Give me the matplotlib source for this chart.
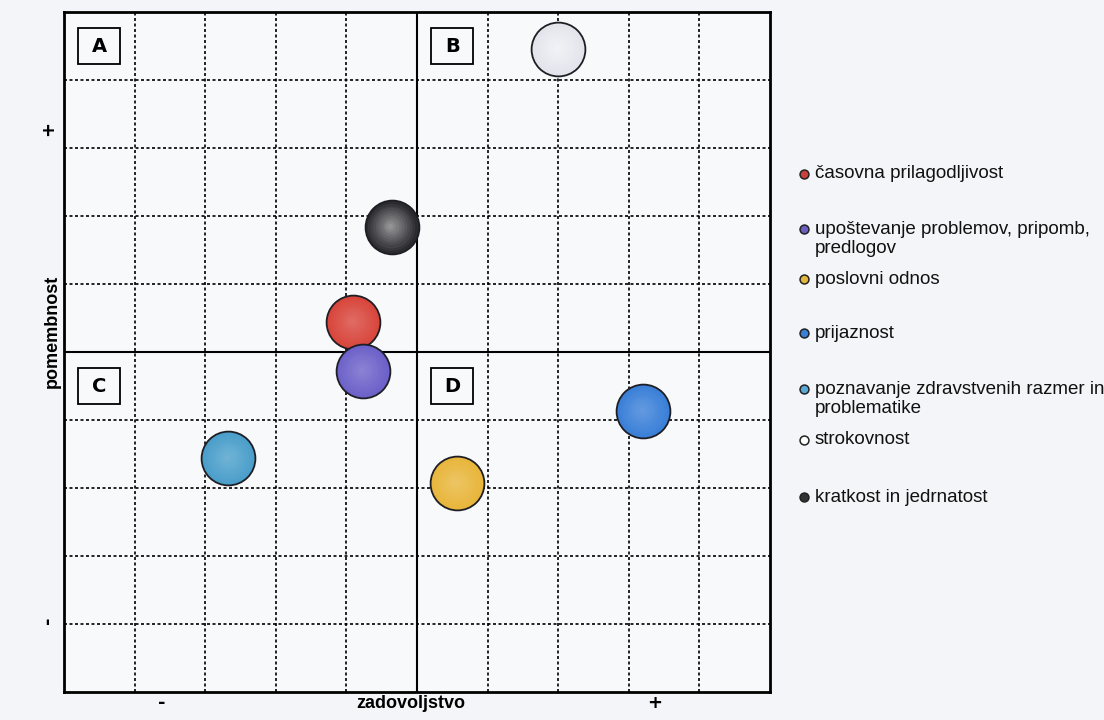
import matplotlib

matplotlib.use("Agg")
import matplotlib.pyplot as plt
from matplotlib.colors import to_rgb
from matplotlib.patches import Rectangle

W, H, DPI = 1104, 720, 100
FONT = ["Liberation Sans", "DejaVu Sans"]

# data (grid units, 0 = quadrant divider)
LABELS = [
    "časovna prilagodljivost",
    "upoštevanje problemov, pripomb,\npredlogov",
    "poslovni odnos",
    "prijaznost",
    "poznavanje zdravstvenih razmer in\nproblematike",
    "strokovnost",
    "kratkost in jedrnatost",
]
SATISFACTION = [-0.90, -0.77, 0.56, 3.20, -2.67, 2.00, -0.36]
IMPORTANCE = [0.44, -0.28, -1.93, -0.87, -1.56, 4.46, 1.84]
COLORS = ["#d8463c", "#6d62c9", "#e8b63c", "#3b80d8", "#4b9fcb", "#e4e5ec", "#2a2a2f"]
LEGEND_COLORS = ["#c9413a", "#6a5fc0", "#e2b73c", "#3b7fd6", "#5aa8d4", "#ffffff", "#333336"]
QUADRANTS = ["A", "B", "C", "D"]
X_TICK_LABELS = ["-", "+"]
Y_TICK_LABELS = ["-", "+"]

# layout
QUAD_POS = [(-4.5, 4.5), (0.5, 4.5), (-4.5, -0.5), (0.5, -0.5)]
X_TICK_POS = [-3.61, 3.37]
Y_TICK_POS = [-3.94, 3.28]
LEGEND_Y = [174, 229, 279, 333, 389, 440, 497]


def mix(color, t):
    r, g, b = to_rgb(color)
    return (r + (1 - r) * t, g + (1 - g) * t, b + (1 - b) * t)


plt.rcParams["font.family"] = FONT
fig = plt.figure(figsize=(W / DPI, H / DPI), dpi=DPI, facecolor="#f4f5f8")
ax = fig.add_axes([64 / W, 28 / H, 706 / W, 680 / H], facecolor="#f8f9fb")
ax.set_xlim(-5, 5)
ax.set_ylim(-5, 5)

grid_ticks = [i for i in range(-4, 5) if i != 0]
for g in grid_ticks:
    ax.axvline(g, color="black", lw=1.2, ls=(0, (1.8, 1.5)), zorder=1)
    ax.axhline(g, color="black", lw=1.2, ls=(0, (1.8, 1.5)), zorder=1)
ax.axvline(0, color="black", lw=1.5, zorder=2)
ax.axhline(0, color="black", lw=1.5, zorder=2)
for sp in ax.spines.values():
    sp.set_linewidth(2.0)
ax.set_xticks([])
ax.set_yticks([])

# quadrant boxes
for letter, (qx, qy) in zip(QUADRANTS, QUAD_POS):
    ax.add_patch(Rectangle((qx - 0.3, qy - 0.265), 0.6, 0.53, fill=False, lw=1.3, ec="black", zorder=3))
    ax.text(qx, qy, letter, ha="center", va="center", fontsize=14, fontweight="heavy",
            family="DejaVu Sans", zorder=4)

# bubbles with a soft radial highlight
size = 1500
for i, (x, y, c) in enumerate(zip(SATISFACTION, IMPORTANCE, COLORS)):
    z = 5 + i * 0.1
    ax.scatter([x], [y], s=size, color=c, edgecolors="#1e1e24", linewidths=1.3, zorder=z)
    strength = 0.55 if c in ("#2a2a2f", "#e4e5ec") else 0.22
    steps = 10
    for k in range(1, steps):
        f = 1 - k / steps
        ax.scatter([x - 0.02 * k / steps], [y + 0.02 * k / steps], s=size * f * f * 0.95,
                   color=mix(c, strength * k / steps), linewidths=0, zorder=z + 0.001 * k)

# axis labels and +/- marks
xt = ax.get_xaxis_transform()
yt = ax.get_yaxis_transform()
for pos, lab in zip(X_TICK_POS, X_TICK_LABELS):
    ax.text(pos, -0.016, lab, transform=xt, ha="center", va="center", fontsize=13,
            fontweight="heavy", family="DejaVu Sans", clip_on=False)
for pos, lab in zip(Y_TICK_POS, Y_TICK_LABELS):
    ax.text(-0.023, pos, lab, transform=yt, ha="center", va="center", fontsize=13,
            fontweight="heavy", family="DejaVu Sans", rotation=90, clip_on=False)
ax.text(0.491, -0.017, "zadovoljstvo", transform=ax.transAxes, ha="center", va="center",
        fontsize=13, fontweight="bold", clip_on=False)
ax.text(-0.017, 0.531, "pomembnost", transform=ax.transAxes, ha="center", va="center",
        fontsize=13, fontweight="bold", rotation=90, clip_on=False)

# legend drawn in pixel space
lg = fig.add_axes([0, 0, 1, 1], facecolor="none")
lg.set_xlim(0, W)
lg.set_ylim(H, 0)
lg.axis("off")
line_h = 20
for lab, c, y in zip(LABELS, LEGEND_COLORS, LEGEND_Y):
    lg.plot([804], [y], "o", ms=6.4, mfc=c, mec="#222222", mew=1.1)
    n = lab.count("\n")
    lg.text(815, y + n * line_h / 2, lab, ha="left", va="center", fontsize=13.5,
            linespacing=1.12, color="#111111")

fig.savefig("out.png", dpi=DPI, facecolor=fig.get_facecolor())
